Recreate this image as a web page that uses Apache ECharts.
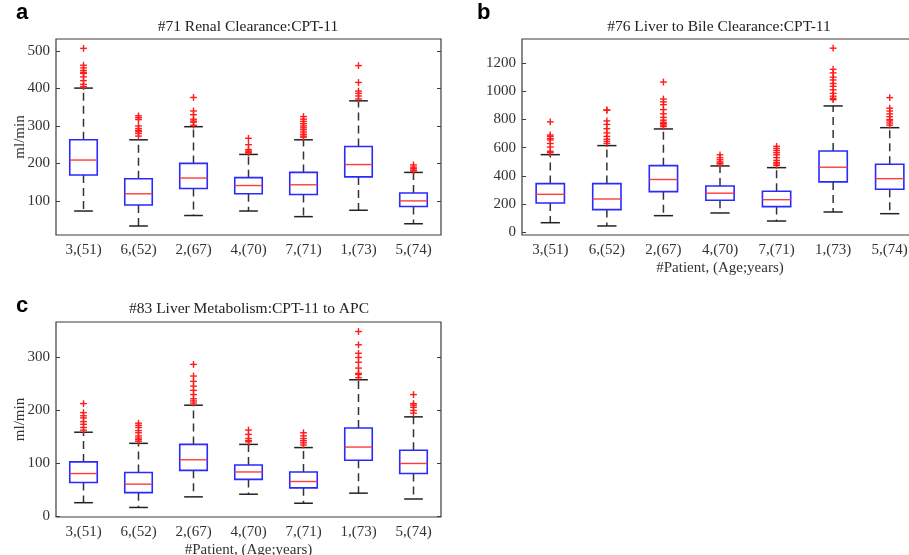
<!DOCTYPE html>
<html>
<head>
<meta charset="utf-8">
<script src="https://cdn.jsdelivr.net/npm/echarts@6/dist/echarts.min.js"></script>
<style>
  html, body { margin: 0; padding: 0; background: #fff; }
  #chart { width: 909px; height: 555px; }
</style>
</head>
<body>
<div id="chart"></div>
<script>
// patients, sorted by age
var categories = ['3,(51)', '6,(52)', '2,(67)', '4,(70)', '7,(71)', '1,(73)', '5,(74)'];

// box stats per patient: [lower whisker, q1, median, q3, upper whisker]
var renalBoxes = [[73, 169, 209, 263, 401], [33, 89, 119, 159, 263], [61, 133, 161, 200, 298],
    [73, 119, 141, 162, 224], [58, 117, 143, 176, 263], [75, 164, 197, 245, 367], [39, 85, 100, 121, 176]];
var renalOutliers = [
    [507, 462, 455, 448, 443, 440, 431, 421, 411, 405],
    [327, 322, 317, 300, 293, 288, 285, 280, 273],
    [376, 340, 330, 318, 313, 310, 302],
    [267, 250, 237, 233, 230, 228],
    [325, 318, 312, 306, 300, 295, 290, 284, 278, 273, 270],
    [461, 416, 393, 387, 380, 372],
    [196, 190, 186, 182, 180]
];

var bileBoxes = [[69, 209, 270, 346, 551], [46, 162, 237, 346, 615], [119, 289, 375, 473, 733],
    [138, 228, 278, 329, 471], [81, 183, 232, 292, 459], [145, 358, 462, 577, 896], [133, 306, 381, 483, 742]];
var bileOutliers = [
    [783, 690, 680, 665, 655, 630, 605, 575, 565],
    [868, 865, 790, 765, 735, 705, 680, 660, 645, 630],
    [1065, 945, 925, 905, 870, 840, 815, 795, 780, 770, 760, 750],
    [550, 530, 515, 500, 490, 485],
    [610, 595, 580, 565, 550, 530, 510, 495, 485, 475],
    [1305, 1155, 1130, 1100, 1080, 1055, 1035, 1010, 985, 965, 950, 940],
    [955, 880, 860, 840, 820, 800, 790, 775, 760]
];

var metabBoxes = [[26, 64, 81, 103, 159], [17, 45, 61, 83, 138], [37, 87, 107, 136, 210],
    [42, 70, 84, 97, 136], [25, 54, 66, 84, 130], [44, 106, 131, 167, 258], [33, 81, 100, 125, 188]];
var metabOutliers = [
    [213, 196, 190, 186, 179, 174, 168, 163],
    [176, 172, 168, 162, 158, 152, 148, 145, 142],
    [287, 265, 255, 246, 238, 230, 222, 218, 214],
    [163, 155, 147, 143, 141],
    [158, 152, 147, 143, 139, 135],
    [349, 324, 308, 300, 291, 280, 270, 268, 262],
    [230, 213, 210, 206, 200, 195]
];

// y tick labels
var renalTicks = [100, 200, 300, 400, 500];
var bileTicks = [0, 200, 400, 600, 800, 1000, 1200];
var metabTicks = [0, 100, 200, 300];

var cFont = 'Liberation Serif';
var cAxis = '#3c3c3c';

var chart = echarts.init(document.getElementById('chart'));

var option = {
    backgroundColor: '#fff',
    animation: false,
    grid: [],
    xAxis: [],
    yAxis: [],
    series: [],
    graphic: []
};

// 画箱体
function renderBox(params, api) {
    var idx = api.value(0);
    var pLow = api.coord([idx, api.value(1)]);
    var pQ1 = api.coord([idx, api.value(2)]);
    var pMed = api.coord([idx, api.value(3)]);
    var pQ3 = api.coord([idx, api.value(4)]);
    var pHigh = api.coord([idx, api.value(5)]);
    var band = api.size([1, 0])[0];
    var x = pMed[0];
    var hw = band * 0.25;
    var cw = band * 0.17;
    var dash = { stroke: '#333', lineWidth: 1.5, lineDash: [8, 5] };
    var cap = { stroke: '#222', lineWidth: 1.5 };
    return {
        type: 'group',
        children: [
            { type: 'line', shape: { x1: x, y1: pQ3[1], x2: x, y2: pHigh[1] }, style: dash },
            { type: 'line', shape: { x1: x, y1: pQ1[1], x2: x, y2: pLow[1] }, style: dash },
            { type: 'line', shape: { x1: x - cw, y1: pHigh[1], x2: x + cw, y2: pHigh[1] }, style: cap },
            { type: 'line', shape: { x1: x - cw, y1: pLow[1], x2: x + cw, y2: pLow[1] }, style: cap },
            {
                type: 'rect', shape: { x: x - hw, y: pQ3[1], width: hw * 2, height: pQ1[1] - pQ3[1] },
                style: { fill: 'none', stroke: '#2a2aff', lineWidth: 1.6 }
            },
            { type: 'line', shape: { x1: x - hw, y1: pMed[1], x2: x + hw, y2: pMed[1] }, style: { stroke: '#ff3b3b', lineWidth: 1.4 } }
        ]
    };
}

// 画离群点 '+'
function renderPlus(params, api) {
    var p = api.coord([api.value(0), api.value(1)]);
    var s = 3.4;
    var st = { stroke: '#ff1a1a', lineWidth: 1.4 };
    return {
        type: 'group',
        children: [
            { type: 'line', shape: { x1: p[0] - s, y1: p[1], x2: p[0] + s, y2: p[1] }, style: st },
            { type: 'line', shape: { x1: p[0], y1: p[1] - s, x2: p[0], y2: p[1] + s }, style: st }
        ]
    };
}

function plainNum(v) {
    return String(v);
}

function addPanel(cfg) {
    var g = option.grid.length;
    option.grid.push({
        left: cfg.left, top: cfg.top, width: cfg.width, height: cfg.height,
        outerBoundsMode: 'none',
        show: true, backgroundColor: 'transparent', borderColor: cAxis, borderWidth: 1.2
    });

    var xBase = {
        type: 'category', data: categories, gridIndex: g,
        axisLine: { show: false, onZero: false },
        axisTick: { inside: true, alignWithLabel: true, length: 4, lineStyle: { color: cAxis } },
        splitLine: { show: false }
    };
    option.xAxis.push(Object.assign({}, xBase, {
        position: 'bottom',
        axisLabel: { color: '#333', fontFamily: cFont, fontSize: 15, margin: 8 },
        name: cfg.xName || '', nameLocation: 'middle', nameGap: 26,
        nameTextStyle: { color: '#333', fontFamily: cFont, fontSize: 15 }
    }));
    option.xAxis.push(Object.assign({}, xBase, { position: 'top', axisLabel: { show: false } }));

    var yBase = {
        type: 'value', gridIndex: g, min: cfg.min, max: cfg.max,
        axisLine: { show: false, onZero: false },
        axisTick: { show: true, inside: true, length: 4, customValues: cfg.ticks, lineStyle: { color: cAxis } },
        splitLine: { show: false }
    };
    option.yAxis.push(Object.assign({}, yBase, {
        position: 'left',
        axisLabel: { color: '#333', fontFamily: cFont, fontSize: 15, margin: 6, customValues: cfg.ticks, formatter: plainNum }
    }));
    option.yAxis.push(Object.assign({}, yBase, {
        position: 'right',
        axisLabel: { show: false, customValues: cfg.ticks }
    }));

    var xi = g * 2, yi = g * 2;
    option.series.push({
        type: 'custom', xAxisIndex: xi, yAxisIndex: yi,
        renderItem: renderBox,
        encode: { x: 0, y: [1, 2, 3, 4, 5] },
        data: cfg.boxes.map(function (b, i) { return [i].concat(b); })
    });
    var pts = [];
    cfg.outliers.forEach(function (list, i) {
        list.forEach(function (v) { pts.push([i, v]); });
    });
    option.series.push({
        type: 'custom', xAxisIndex: xi, yAxisIndex: yi,
        renderItem: renderPlus,
        encode: { x: 0, y: 1 },
        data: pts
    });

    option.graphic.push({
        type: 'text', x: cfg.titleX, y: cfg.titleY,
        style: { text: cfg.title, font: '15.5px "Liberation Serif"', fill: '#222', align: 'center', verticalAlign: 'middle' }
    });
    option.graphic.push({
        type: 'text', x: cfg.letterX, y: cfg.letterY,
        style: { text: cfg.letter, font: 'bold 22px "Liberation Sans"', fill: '#000', align: 'left', verticalAlign: 'middle' }
    });
    if (cfg.yName) {
        // y轴名称, 竖排
        option.graphic.push({
            type: 'text', x: 20, y: cfg.top + cfg.height / 2, rotation: Math.PI / 2,
            style: { text: cfg.yName, font: '15px "Liberation Serif"', fill: '#333', align: 'center', verticalAlign: 'middle' }
        });
    }
}

addPanel({
    left: 56, top: 39, width: 385, height: 196, min: 9, max: 532,
    ticks: renalTicks, boxes: renalBoxes, outliers: renalOutliers,
    yName: 'ml/min', title: '#71 Renal Clearance:CPT-11', titleX: 248, titleY: 26.5,
    letter: 'a', letterX: 16, letterY: 13
});
addPanel({
    left: 522, top: 39, width: 396, height: 196, min: -18, max: 1370,
    ticks: bileTicks, boxes: bileBoxes, outliers: bileOutliers,
    xName: '#Patient, (Age;years)', title: '#76 Liver to Bile Clearance:CPT-11', titleX: 719, titleY: 26.5,
    letter: 'b', letterX: 477, letterY: 13
});
addPanel({
    left: 56, top: 322, width: 385, height: 195, min: -1, max: 367,
    ticks: metabTicks, boxes: metabBoxes, outliers: metabOutliers,
    yName: 'ml/min', xName: '#Patient, (Age;years)', title: '#83 Liver Metabolism:CPT-11 to APC', titleX: 249, titleY: 309,
    letter: 'c', letterX: 16, letterY: 306
});

chart.setOption(option);
</script>
</body>
</html>
